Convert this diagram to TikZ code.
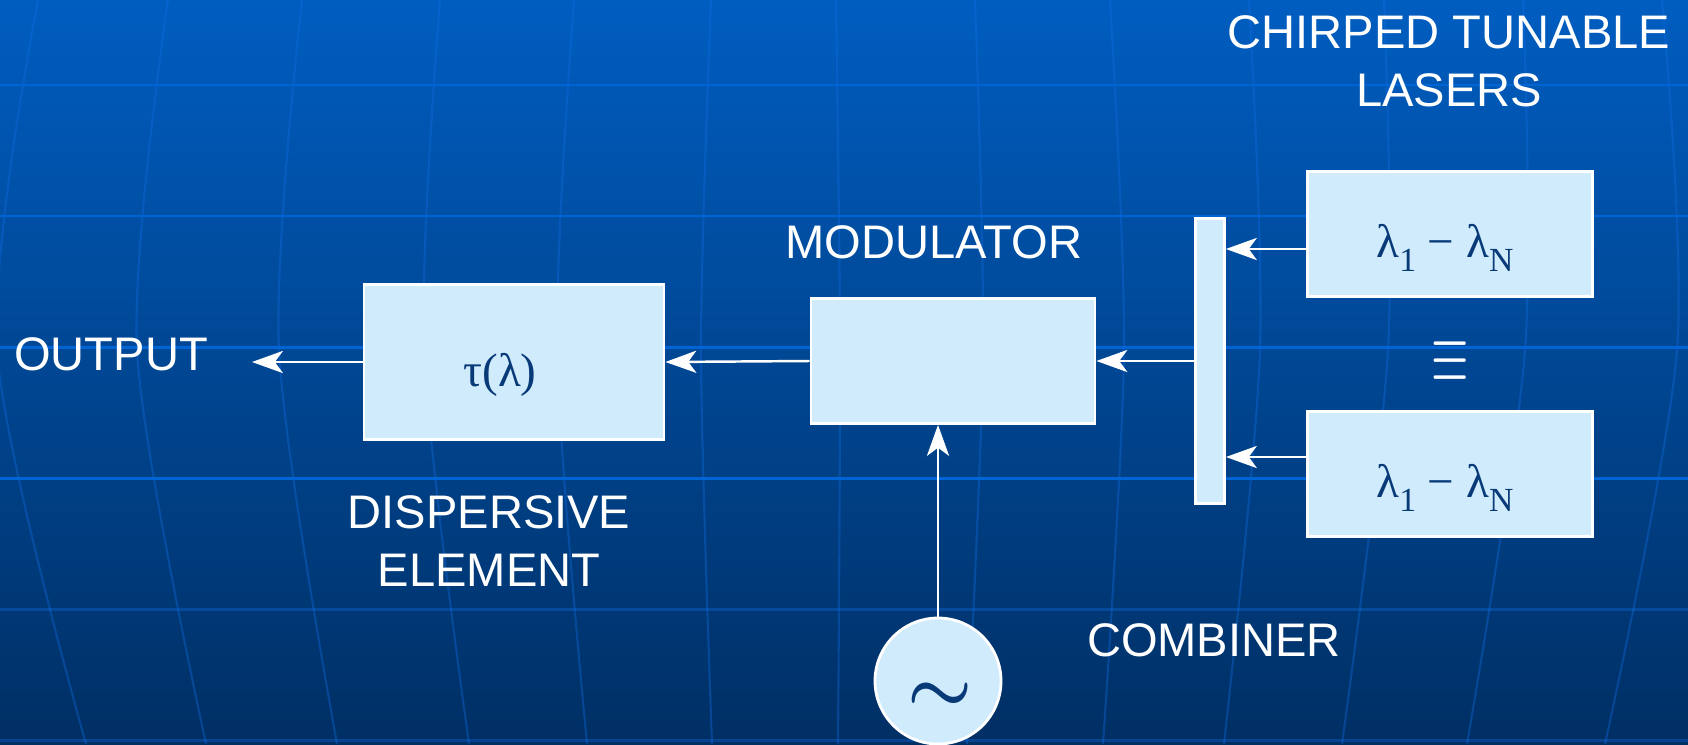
\documentclass[tikz,border=0pt]{standalone}
\usepackage{graphicx}
\usepackage{fontspec}
\setmainfont{Liberation Sans}
\newfontfamily\grkfont{Liberation Serif}
\usetikzlibrary{arrows.meta}
\definecolor{bgtop}{RGB}{0,93,192}
\definecolor{bgbot}{RGB}{0,47,100}
\definecolor{gridline}{RGB}{0,100,212}
\definecolor{meridian}{RGB}{20,110,230}
\definecolor{boxfill}{RGB}{207,235,252}
\definecolor{inkblue}{RGB}{8,58,120}
\newcommand{\lowsub}[1]{\raisebox{-0.28em}{\fontsize{9.6}{10}\selectfont #1}}
\tikzset{
  blk/.style={draw=white,line width=0.8pt,fill=boxfill,inner sep=0pt},
  lbl/.style={text=white,font=\fontsize{13.4}{16.5}\selectfont,align=center,inner sep=0pt},
  sym/.style={text=inkblue,font=\grkfont\fontsize{13.4}{16}\selectfont,inner sep=0pt},
  tild/.style={text=inkblue,font=\fontsize{22}{24}\selectfont\boldmath,inner sep=0pt},
  merid/.style={draw=meridian,draw opacity=0.35},
  arr/.style={draw=white,line width=0.7pt,-{Stealth[length=8.8pt,width=6.3pt,inset=2.3pt]}}
}
\begin{document}
\begin{tikzpicture}[x=0.1mm,y=-0.1mm]
\useasboundingbox (0,0) rectangle (1688,744);
% background grid
\begin{scope}
\clip (0,0) rectangle (1688,744);
\shade[top color=bgtop,bottom color=bgbot] (0,0) rectangle (1688,744);
\foreach \t/\m/\b in {38/-3/86,168/137/206,302/279/337,440/424/469,574/557/587,711/701/712,836/840/838,975/983/967,1110/1124/1103,1249/1260/1224,1384/1388/1342,1523/1525/1467,1662/1677/1605}
  \draw[merid,line width=0.6pt] plot[smooth] coordinates {(\t,0) (\m,350) (\b,744)};
\foreach \y in {85,216,347,478}
  \draw[gridline,line width=0.85pt] (0,\y) -- (1688,\y);
\foreach \y in {609,740}
  \draw[merid,line width=0.85pt] (0,\y) -- (1688,\y);
\end{scope}
% blocks
\node[blk,minimum width=30mm,minimum height=15.5mm] (disp) at (514,362) {};
\node[blk,minimum width=28.4mm,minimum height=12.5mm] (mod) at (953,361) {};
\node[blk,minimum width=2.9mm,minimum height=28.5mm] (comb) at (1210,361) {};
\node[blk,minimum width=28.5mm,minimum height=12.5mm] (las1) at (1450,234) {};
\node[blk,minimum width=28.5mm,minimum height=12.5mm] (las2) at (1450,474) {};
\node[blk,circle,minimum size=12.6mm] (osc) at (938,681) {};
\node[sym] (tau) at (500,375) {τ(λ)};
\node[sym] (lam1) at (1445,248) {λ\lowsub{1} − λ\lowsub{N}};
\node[sym] (lam2) at (1445,488) {λ\lowsub{1} − λ\lowsub{N}};
\node[text=white,inner sep=0pt] (dots) at (1450,362) {\scalebox{0.55}[1]{\fontsize{23.4}{24}\selectfont$\equiv$}};
\node[tild] (wave) at (940,697) {$\sim$};
% labels
\node[lbl] (out) at (111,354) {OUTPUT};
\node[lbl] (disptxt) at (489,541) {DISPERSIVE\\ELEMENT};
\node[lbl] (modtxt) at (934,242) {MODULATOR};
\node[lbl] (combtxt) at (1214,640) {COMBINER};
\node[lbl] (lastxt) at (1449,61) {CHIRPED TUNABLE\\LASERS};
% connectors
\coordinate (outend) at (252,362);
\coordinate (in1) at ([yshift=-1.5mm]las1.west);
\coordinate (in2) at ([yshift=1.7mm]las2.west);
\draw[arr] (in1) -- (in1 -| comb.east);
\draw[arr] (in2) -- (in2 -| comb.east);
\draw[arr] (comb.west) -- (mod.east);
\draw[arr] (mod.west) -- (disp.east);
\draw[arr] (disp.west) -- (outend);
\draw[arr] (osc.north) -- (osc.north |- mod.south);
\end{tikzpicture}
\end{document}
